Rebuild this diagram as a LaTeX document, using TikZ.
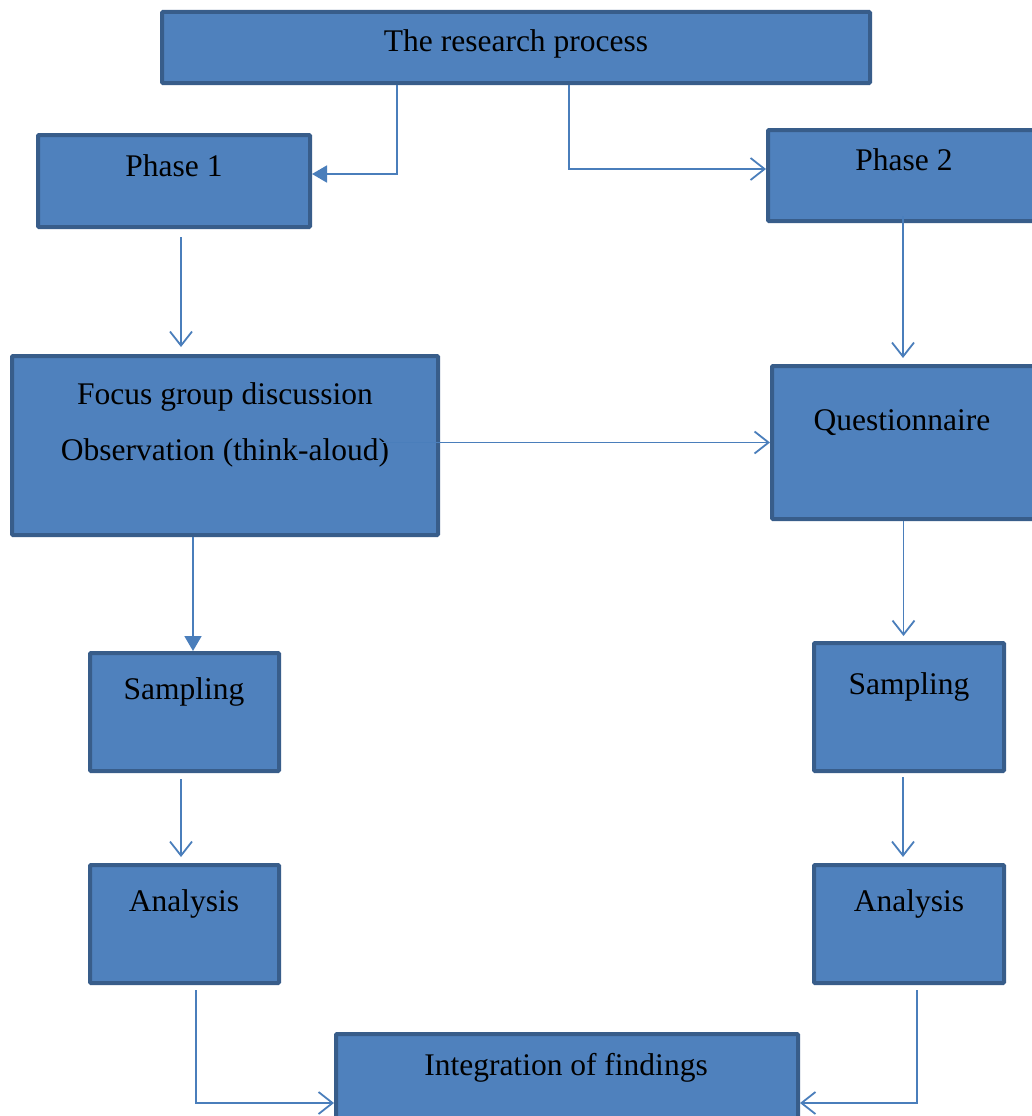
\documentclass[tikz,border=0pt]{standalone}
\usepackage{fontspec}
\setmainfont{Liberation Serif}
\usetikzlibrary{arrows.meta,calc}
\definecolor{boxfill}{HTML}{4F81BD}
\definecolor{boxline}{HTML}{385D8A}
\definecolor{conn}{HTML}{4A7EBB}
\tikzset{
  box/.style={draw=boxline, fill=boxfill, line width=4pt, inner sep=0pt, outer sep=0pt, anchor=north west, rounded corners=1pt},
  txt/.style={anchor=base, inner sep=0pt, font=\fontsize{31.5}{38}\selectfont},
  link/.style={draw=conn, line width=1.8pt},
  barb/.style={link, -{Straight Barb[length=14pt,width=22pt,line width=1.8pt]}},
  tri/.style={link, -{Triangle[length=15pt,width=17pt]}},
}
\begin{document}
\begin{tikzpicture}[x=1pt,y=-1pt]
\useasboundingbox (0,0) rectangle (1032,1116);
\clip (0,0) rectangle (1032,1116);
\fill[white] (0,0) rectangle (1032,1116);
% boxes
\node[box, minimum width=708pt, minimum height=71pt] (top) at (162,12) {};
\node[box, minimum width=272pt, minimum height=92pt] (p1) at (38,135) {};
\node[box, minimum width=274pt, minimum height=91pt] (p2) at (768,130) {};
\node[box, minimum width=426pt, minimum height=179pt] (focus) at (12,356) {};
\node[box, minimum width=263pt, minimum height=153pt] (quest) at (772,366) {};
\node[box, minimum width=189pt, minimum height=118pt] (sl) at (90,653) {};
\node[box, minimum width=190pt, minimum height=128pt] (sr) at (814,643) {};
\node[box, minimum width=189pt, minimum height=118pt] (al) at (90,865) {};
\node[box, minimum width=190pt, minimum height=118pt] (ar) at (814,865) {};
\node[box, minimum width=462pt, minimum height=100pt] (integ) at (336,1034) {};
% texts
\node[txt] (ttop) at (516,52) {The research process};
\node[txt] (tp1) at (174,176) {Phase 1};
\node[txt] (tp2) at (904,170) {Phase 2};
\node[txt] (tf1) at (225,404) {Focus group discussion};
\node[txt] (tf2) at (225,460) {Observation (think-aloud)};
\node[txt] (tq) at (902,430) {Questionnaire};
\node[txt] (tsl) at (184,699) {Sampling};
\node[txt] (tsr) at (909,694) {Sampling};
\node[txt] (tal) at (184,911) {Analysis};
\node[txt] (tar) at (909,911) {Analysis};
\node[txt] (tin) at (566,1075) {Integration of findings};
% helper coordinates
\coordinate (c1) at ([xshift=-119pt,yshift=-2pt]top.south);
\coordinate (c1e) at ([xshift=2pt,yshift=7pt]p1.east);
\coordinate (c2) at ([xshift=53pt,yshift=-2pt]top.south);
\coordinate (c2e) at ([xshift=-2pt,yshift=6.5pt]p2.west);
\coordinate (fq) at ([xshift=-58pt]focus.east);
\coordinate (qw) at ([xshift=-2pt]quest.west);
\coordinate (fs) at ([xshift=-32pt,yshift=-2pt]focus.south);
\coordinate (pq) at ([xshift=-2pt,yshift=5pt]p2.south);
\coordinate (alb) at ([xshift=11.5pt,yshift=-7pt]al.south);
\coordinate (arb) at ([xshift=8pt,yshift=-7pt]ar.south);
\coordinate (inl) at ([xshift=-2pt,yshift=-19pt]integ.west);
\coordinate (inr) at ([xshift=2pt,yshift=-19pt]integ.east);
% connectors
\draw[tri] (c1) |- (c1e);
\draw[barb] (c2) |- (c2e);
\draw[barb] ([xshift=7pt,yshift=-10pt]p1.south) -- ([xshift=-44pt,yshift=9pt]focus.north);
\draw[barb] (pq) -- ([yshift=8pt]pq |- quest.north);
\draw[barb] (fq |- qw) -- (qw);
\draw[tri] (fs) -- ([yshift=2pt]fs |- sl.north);
\draw[barb] ([yshift=-2pt]quest.south) -- ([yshift=7pt]quest.south |- sr.north);
\draw[barb] ([xshift=-3.5pt,yshift=-8pt]sl.south) -- ([xshift=-3.5pt,yshift=8pt]al.north);
\draw[barb] ([xshift=-6pt,yshift=-6pt]sr.south) -- ([xshift=-6pt,yshift=8pt]ar.north);
\draw[barb] (alb) |- (inl);
\draw[barb] (arb) |- (inr);
\end{tikzpicture}
\end{document}
